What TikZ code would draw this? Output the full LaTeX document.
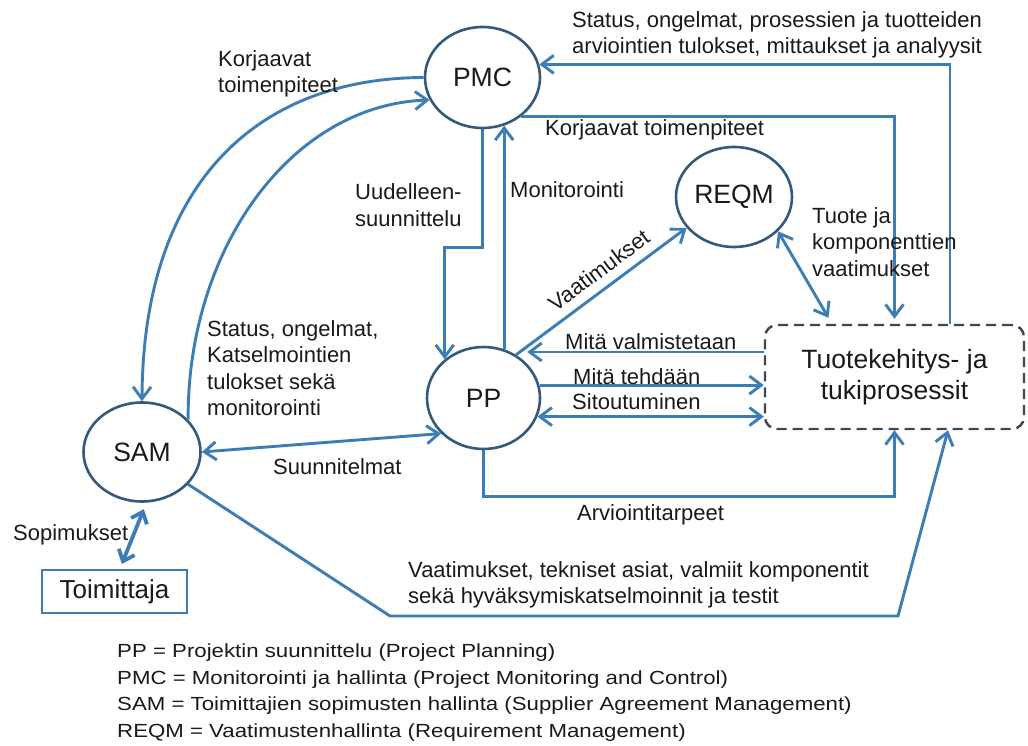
\documentclass[tikz,border=0pt]{standalone}
\usepackage{fontspec}
\setmainfont{Liberation Sans}
\usetikzlibrary{arrows.meta,shapes.geometric,calc}
\definecolor{flow}{HTML}{3C7DB5}
\definecolor{ring}{HTML}{34597C}
\definecolor{ink}{HTML}{1A1A1A}
\definecolor{frame}{HTML}{3C4654}

\begin{document}
\begin{tikzpicture}[x=1pt,y=1pt,
  proc/.style={ellipse, draw=ring, line width=2.6pt, inner sep=0pt,
    font=\fontsize{26.5}{30}\selectfont, text=ink},
  flowline/.style={draw=flow, line width=2.9pt},
  tip/.tip={Straight Barb[length=12pt,width=18pt]},
  arr/.style={flowline, -tip},
  darr/.style={flowline, tip-tip},
  lblfont/.style={text=ink, font=\fontsize{22}{26.5}\selectfont, inner sep=0pt},
  lbl/.style={lblfont, anchor=west, align=left},
]
\useasboundingbox (0,0) rectangle (1028,745);
\fill[white] (0,0) rectangle (1028,745);

% process circles
\node[proc, minimum width=115pt, minimum height=101pt] (pmc)  at (482.5,667.5) {PMC};
\node[proc, minimum width=116pt, minimum height=100pt] (reqm) at (734,548) {REQM};
\node[proc, minimum width=113pt, minimum height=102pt] (pp)   at (483.5,347) {PP};
\node[proc, minimum width=117pt, minimum height=99pt]  (sam)  at (142,293) {SAM};

% supplier box
\node[draw=flow, line width=2.8pt, minimum width=145pt, minimum height=43pt,
      font=\fontsize{26}{30}\selectfont, text=ink] (sup) at (114.5,153.5) {Toimittaja};

% development and support processes
\node[draw=frame, line width=2.4pt, dash pattern=on 10pt off 6pt, rounded corners=12pt,
      minimum width=259pt, minimum height=104pt, align=center, text=ink,
      font=\fontsize{26.5}{31}\selectfont] (tuki) at (894.5,368)
  {Tuotekehitys- ja\\tukiprosessit};

% corrective actions and status between PMC and SAM
\draw[arr] (pmc.west) .. controls (260,667) and (143,565) .. (sam.north);
\draw[arr] (sam.35) .. controls (187,495) and (290,640) .. (pmc.203);

% replanning and monitoring between PMC and PP
\draw[arr] (pmc.south) -- ++(0,-118) -| (pp.135);
\draw[arr] (pp.67.85) -- (pp.67.85 |- pmc.-66.5);

% PMC and the development processes
\draw[arr, shorten >=5pt] (pmc.315) -| (tuki.north);
\draw[arr] ([xshift=55.5pt]tuki.north) |- (pmc.13);

% requirements
\draw[arr] (pp.53) -- node[lblfont, sloped, above=9pt, pos=0.55] (lreq) {Vaatimukset} (reqm.213.5);
\draw[darr, shorten >=7pt] (reqm.-38) -- ([xshift=-62.5pt]tuki.north);

% PP and the development processes
\draw[arr] ([yshift=25pt]tuki.west) -- ([yshift=25pt]tuki.west -| pp.38);
\draw[arr] (pp.13.4) -- (pp.13.4 -| tuki.west);
\draw[darr] (pp.-19.9) -- (pp.-19.9 -| tuki.west);
\draw[arr] (pp.south) -- ++(0,-46) -| (tuki.south);

% SAM connections
\draw[darr] (sam.east) -- (pp.220.4);
\coordinate (bendA) at (390,129);
\coordinate (bendB) at (898,129);
\draw[arr] (sam.-35) -- (bendA) -- (bendB) -- ([xshift=53.5pt]tuki.south);
\draw[flow, line width=3.8pt, shorten <=7pt, shorten >=5pt,
  {Straight Barb[length=10pt,width=17pt]}-{Straight Barb[length=10pt,width=17pt]}]
  (sam.-85) -- ([xshift=5.5pt]sup.north);

% labels
\node[lbl] (l1) at (218,671) {Korjaavat\\toimenpiteet};
\node[lbl] (l2) at (207,377) {Status, ongelmat,\\Katselmointien\\tulokset sekä\\monitorointi};
\node[lbl] (l3) at (355,540) {Uudelleen-\\suunnittelu};
\node[lbl] (l4) at (510,555) {Monitorointi};
\node[lbl] (l5) at (545,615) {Korjaavat toimenpiteet};
\node[lbl] (l6) at (572,710) {Status, ongelmat, prosessien ja tuotteiden\\arviointien tulokset, mittaukset ja analyysit};
\node[lbl] (l7) at (812,503) {Tuote ja\\komponenttien\\vaatimukset};
\node[lbl] (l8) at (565,403) {Mitä valmistetaan};
\node[lbl] (l9) at (573,368) {Mitä tehdään};
\node[lbl] (l10) at (572,343) {Sitoutuminen};
\node[lbl] (l11) at (577,230) {Arviointitarpeet};
\node[lbl] (l12) at (408,160) {Vaatimukset, tekniset asiat, valmiit komponentit\\sekä hyväksymiskatselmoinnit ja testit};
\node[lbl] (l13) at (273,278) {Suunnitelmat};
\node[lbl] (l14) at (13,210) {Sopimukset};

% legend
\node[anchor=west, inner sep=0pt, text=ink, font=\fontsize{19}{26.5}\selectfont] (legend) at (117,53)
  {\scalebox{1.17}[1]{\begin{tabular}{@{}l@{}}
   PP = Projektin suunnittelu (Project Planning)\\
   PMC = Monitorointi ja hallinta (Project Monitoring and Control)\\
   SAM = Toimittajien sopimusten hallinta (Supplier Agreement Management)\\
   REQM = Vaatimustenhallinta (Requirement Management)
   \end{tabular}}};
\end{tikzpicture}
\end{document}
